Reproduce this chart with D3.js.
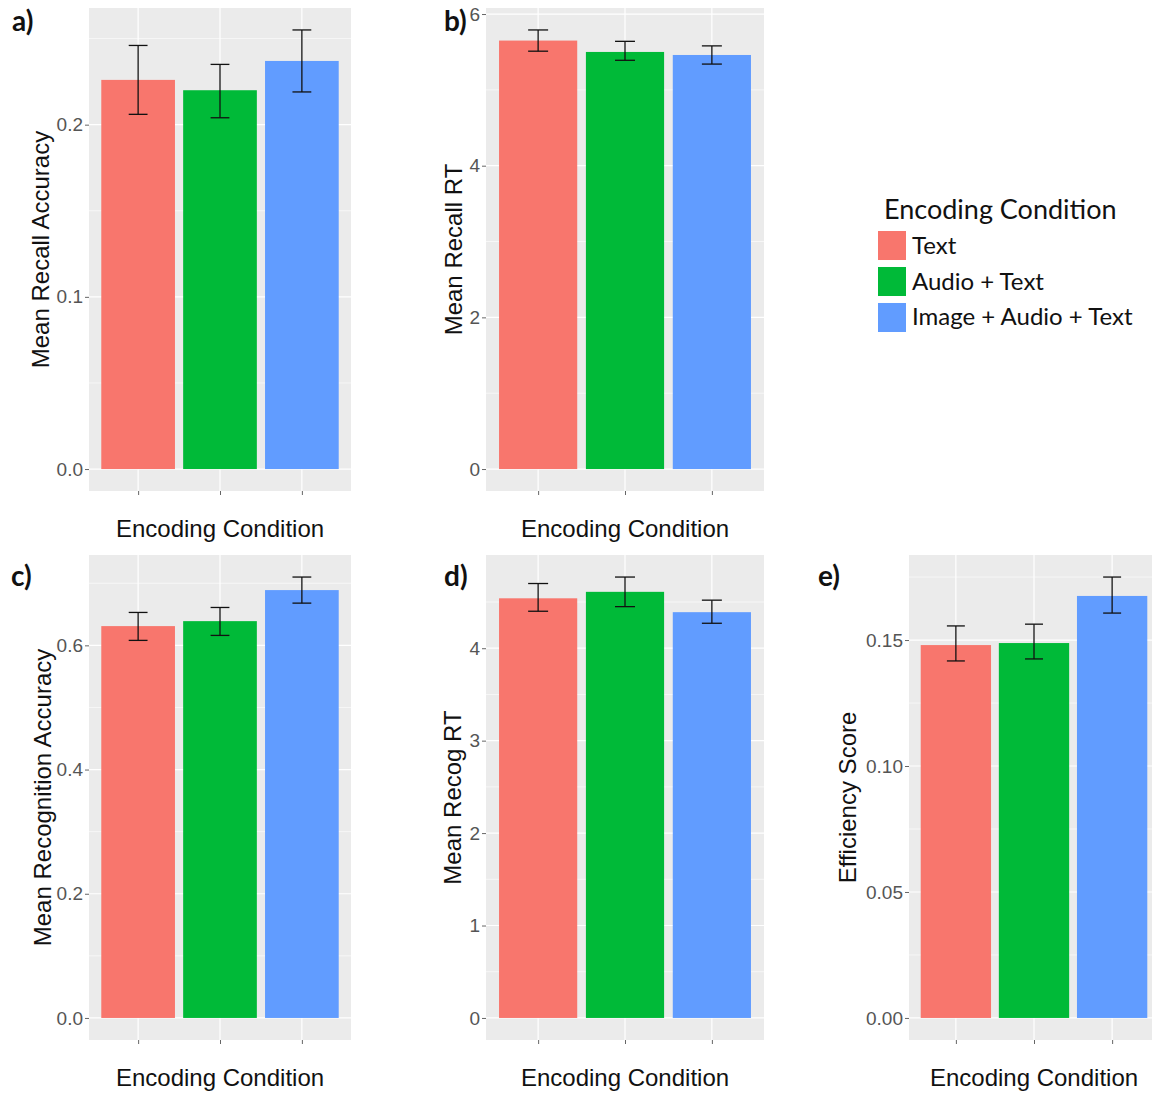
<!DOCTYPE html>
<html>
<head>
<meta charset="utf-8">
<script src="https://cdn.jsdelivr.net/npm/d3@7"></script>
<style>
  html, body { margin: 0; padding: 0; background: #fff; }
  svg { display: block; }
</style>
</head>
<body>
<svg id="chart" width="1152" height="1093"></svg>
<script>
// ---------- data ----------
const categories = ["Text", "Audio + Text", "Image + Audio + Text"];
const colors = ["#F8766D", "#00BA38", "#619CFF"];

const recallAccuracy   = [0.226, 0.220, 0.237];
const recallAccuracyLo = [0.206, 0.204, 0.219];
const recallAccuracyHi = [0.246, 0.235, 0.255];

const recallRT   = [5.65, 5.50, 5.46];
const recallRTLo = [5.51, 5.39, 5.34];
const recallRTHi = [5.79, 5.64, 5.58];

const recogAccuracy   = [0.631, 0.639, 0.689];
const recogAccuracyLo = [0.608, 0.616, 0.668];
const recogAccuracyHi = [0.653, 0.661, 0.710];

const recogRT   = [4.54, 4.61, 4.39];
const recogRTLo = [4.40, 4.45, 4.27];
const recogRTHi = [4.70, 4.77, 4.52];

const efficiency   = [0.148, 0.1488, 0.1675];
const efficiencyLo = [0.1417, 0.1425, 0.1607];
const efficiencyHi = [0.1556, 0.1563, 0.1750];

const ticksA = [0, 0.1, 0.2];          const tickLabelsA = ["0.0", "0.1", "0.2"];
const ticksB = [0, 2, 4, 6];           const tickLabelsB = ["0", "2", "4", "6"];
const ticksC = [0, 0.2, 0.4, 0.6];     const tickLabelsC = ["0.0", "0.2", "0.4", "0.6"];
const ticksD = [0, 1, 2, 3, 4];        const tickLabelsD = ["0", "1", "2", "3", "4"];
const ticksE = [0, 0.05, 0.10, 0.15];  const tickLabelsE = ["0.00", "0.05", "0.10", "0.15"];

const panelLabels = ["a)", "b)", "c)", "d)", "e)"];
const yTitles = ["Mean Recall Accuracy", "Mean Recall RT", "Mean Recognition Accuracy", "Mean Recog RT", "Efficiency Score"];
const xTitle = "Encoding Condition";
const legendTitle = "Encoding Condition";

// ---------- layout ----------
const panels = [
  { vals: recallAccuracy, lo: recallAccuracyLo, hi: recallAccuracyHi, ticks: ticksA, labels: tickLabelsA,
    box: {x: 89, y: 8, w: 262, h: 483}, lab: {x: 12, y: 31}, yt: 40 },
  { vals: recallRT, lo: recallRTLo, hi: recallRTHi, ticks: ticksB, labels: tickLabelsB,
    box: {x: 486, y: 8, w: 278, h: 483}, lab: {x: 444, y: 31}, yt: 24 },
  { vals: recogAccuracy, lo: recogAccuracyLo, hi: recogAccuracyHi, ticks: ticksC, labels: tickLabelsC,
    box: {x: 89, y: 555, w: 262, h: 485}, lab: {x: 11, y: 586}, yt: 38 },
  { vals: recogRT, lo: recogRTLo, hi: recogRTHi, ticks: ticksD, labels: tickLabelsD,
    box: {x: 486, y: 555, w: 278, h: 485}, lab: {x: 444, y: 586}, yt: 25 },
  { vals: efficiency, lo: efficiencyLo, hi: efficiencyHi, ticks: ticksE, labels: tickLabelsE,
    box: {x: 909, y: 555, w: 250, h: 485}, lab: {x: 818, y: 586}, yt: 53 }
];

const svg = d3.select("#chart");
const axisFont = "'Liberation Sans', Arial, sans-serif";
const labelFont = "Lato, 'Open Sans', sans-serif";

panels.forEach((p, i) => {
  const b = p.box;
  const g = svg.append("g").attr("transform", `translate(${b.x},${b.y})`);

  const m = d3.max(p.hi);
  const y = d3.scaleLinear().domain([-0.05 * m, 1.05 * m]).range([b.h, 0]);
  // x: continuous positions like ggplot discrete (1..3, expanded 0.6)
  const xc = d3.scaleLinear().domain([0.4, categories.length + 0.6]).range([0, b.w]);
  const unit = xc(2) - xc(1);

  // background
  g.append("rect").attr("width", b.w).attr("height", b.h).attr("fill", "#EBEBEB");

  // minor grid
  const step = p.ticks[1] - p.ticks[0];
  const minors = [];
  for (let v = p.ticks[0] + step / 2; v < 1.05 * m; v += step) minors.push(v);
  g.selectAll(".minor").data(minors).enter().append("line")
    .attr("x1", 0).attr("x2", b.w).attr("y1", d => y(d)).attr("y2", d => y(d))
    .attr("stroke", "#fff").attr("stroke-width", 0.6);
  // major grid
  g.selectAll(".major").data(p.ticks).enter().append("line")
    .attr("x1", 0).attr("x2", b.w).attr("y1", d => y(d)).attr("y2", d => y(d))
    .attr("stroke", "#fff").attr("stroke-width", 1.2);
  g.selectAll(".vmajor").data(categories).enter().append("line")
    .attr("x1", (d, j) => xc(j + 1)).attr("x2", (d, j) => xc(j + 1))
    .attr("y1", 0).attr("y2", b.h)
    .attr("stroke", "#fff").attr("stroke-width", 1.2);

  // bars
  g.selectAll(".bar").data(p.vals).enter().append("rect")
    .attr("x", (d, j) => xc(j + 1) - unit * 0.45)
    .attr("width", unit * 0.9)
    .attr("y", d => y(d))
    .attr("height", d => y(0) - y(d))
    .attr("fill", (d, j) => colors[j]);

  // error bars
  const cap = unit * 0.115;
  p.vals.forEach((v, j) => {
    const cx = xc(j + 1);
    const eg = g.append("g").attr("stroke", "#111").attr("stroke-width", 1.3).attr("fill", "none");
    eg.append("line").attr("x1", cx).attr("x2", cx).attr("y1", y(p.lo[j])).attr("y2", y(p.hi[j]));
    eg.append("line").attr("x1", cx - cap).attr("x2", cx + cap).attr("y1", y(p.lo[j])).attr("y2", y(p.lo[j]));
    eg.append("line").attr("x1", cx - cap).attr("x2", cx + cap).attr("y1", y(p.hi[j])).attr("y2", y(p.hi[j]));
  });

  // y axis
  const yAxis = d3.axisLeft(y).tickValues(p.ticks).tickSize(4).tickPadding(2)
    .tickFormat((d, k) => p.labels[k]);
  const ya = g.append("g").call(yAxis);
  ya.select(".domain").remove();
  ya.selectAll(".tick line").attr("stroke", "#666").attr("stroke-width", 1);
  ya.selectAll(".tick text").attr("fill", "#555").style("font-family", axisFont).style("font-size", "19px");

  // x axis (ticks only)
  const xAxis = d3.axisBottom(xc).tickValues(d3.range(1, categories.length + 1)).tickSize(4).tickFormat("");
  const xa = g.append("g").attr("transform", `translate(0,${b.h})`).call(xAxis);
  xa.select(".domain").remove();
  xa.selectAll(".tick line").attr("stroke", "#666").attr("stroke-width", 1);

  // x title
  svg.append("text")
    .attr("x", b.x + b.w / 2)
    .attr("y", b.y + b.h + 46)
    .attr("text-anchor", "middle")
    .style("font-family", axisFont).style("font-size", "24px").attr("fill", "#111")
    .text(xTitle);

  // y title
  svg.append("text")
    .attr("transform", `translate(${b.x - p.yt},${b.y + b.h / 2}) rotate(-90)`)
    .attr("text-anchor", "middle")
    .style("font-family", axisFont).style("font-size", "24px").attr("fill", "#111")
    .text(yTitles[i]);

  // panel label
  svg.append("text")
    .attr("x", p.lab.x).attr("y", p.lab.y)
    .style("font-family", labelFont).style("font-size", "28px").style("font-weight", "700")
    .attr("fill", "#111")
    .text(panelLabels[i]);
});

// ---------- legend ----------
const lg = svg.append("g").attr("transform", "translate(878,0)");
lg.append("text").attr("x", 6).attr("y", 219)
  .style("font-family", labelFont).style("font-size", "27px").attr("fill", "#111")
  .text(legendTitle);
const ly = d3.scaleBand().domain(categories).range([231, 332]).paddingInner(0.194);
categories.forEach((c, j) => {
  lg.append("rect").attr("x", 0).attr("y", ly(c)).attr("width", 28).attr("height", ly.bandwidth())
    .attr("fill", colors[j]);
  lg.append("text").attr("x", 34).attr("y", ly(c) + ly.bandwidth() / 2 + 8)
    .style("font-family", labelFont).style("font-size", "24px").attr("fill", "#111")
    .text(c);
});
</script>
</body>
</html>
